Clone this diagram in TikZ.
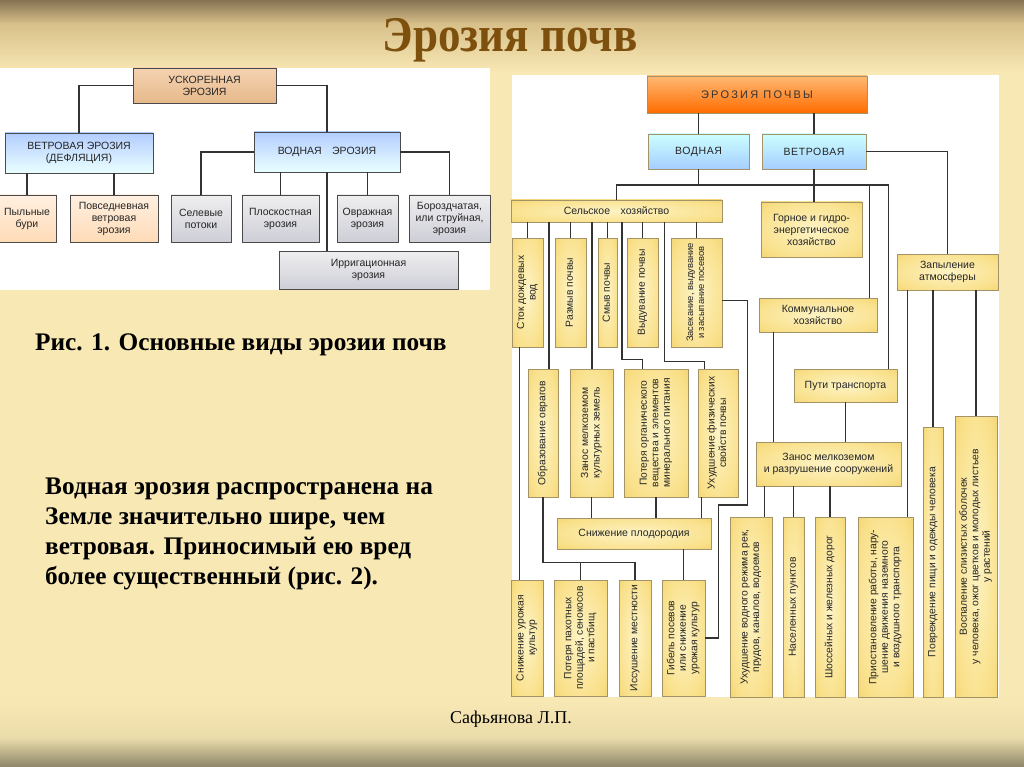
\documentclass[tikz,border=0pt]{standalone}
\usepackage{fontspec}
\setmainfont{Liberation Serif}
\setsansfont{Liberation Sans}
\usepackage{tikz}
\usepackage{graphicx}
\usetikzlibrary{calc}

\definecolor{bgA}{HTML}{857352}
\definecolor{bgB}{HTML}{D8C08A}
\definecolor{bgC}{HTML}{F8E8B4}
\definecolor{bgD}{HTML}{EADCAA}
\definecolor{bgE}{HTML}{8C8569}
\definecolor{yin}{HTML}{FDF3C4}
\definecolor{ymid}{HTML}{F9E08A}
\definecolor{yout}{HTML}{EEC24C}
\definecolor{yline}{HTML}{A39369}
\definecolor{lline}{HTML}{4A4A4A}
\definecolor{conncol}{HTML}{333333}
\definecolor{titcol}{HTML}{7E500E}
\pgfdeclareradialshading{yglow}{\pgfpoint{0bp}{0bp}}{color(0bp)=(yin); color(28bp)=(ymid); color(50bp)=(yout)}

\newcommand{\vtext}[1]{\rotatebox{90}{\begin{tabular}{@{}c@{}}#1\end{tabular}}}

\tikzset{
  wh/.style 2 args={minimum width=#1, minimum height=#2},
  lbox/.style={draw=lline, line width=0.8pt, inner sep=1pt, align=center,
    text=black!85, font=\sffamily\fontsize{10.5}{12}\selectfont},
  brownbox/.style={lbox, top color=white!60!brown!70!orange!60, bottom color=brown!70!orange!55!white},
  bluebox/.style={lbox, top color=cyan!35!blue!30!white, bottom color=cyan!8!white},
  peachbox/.style={lbox, top color=orange!12!white, bottom color=orange!28!white},
  greybox/.style={lbox, top color=blue!5!gray!12!white, bottom color=blue!10!gray!35!white},
  ybox/.style={draw=yline, line width=0.7pt, inner sep=1pt, align=center, shading=yglow,
    text=black!85, font=\sffamily\fontsize{10.5}{12}\selectfont},
  vbox/.style={ybox, font=\sffamily\fontsize{10.3}{11.5}\selectfont},
  rbluebox/.style={ybox, shading=axis, top color=cyan!20!white, bottom color=cyan!45!blue!35!white},
  orangebox/.style={draw=yline, line width=0.7pt, top color=orange!55!white, bottom color=orange!85!red,
    text=black!80, font=\sffamily\fontsize{11}{12}\selectfont\addfontfeature{LetterSpace=20}},
  conn/.style={draw=conncol, line width=1.3pt},
  lconn/.style={draw=conncol, line width=1.2pt}
}

\begin{document}
\begin{tikzpicture}[x=1pt,y=-1pt]
\useasboundingbox (0,0) rectangle (1024,767);

%Shape: background
\shade[top color=bgA, bottom color=bgB] (0,0) rectangle (1024,24);
\shade[top color=bgB, bottom color=bgC] (0,24) rectangle (1024,72);
\fill[bgC] (0,72) rectangle (1024,700);
\shade[top color=bgC, bottom color=bgD] (0,700) rectangle (1024,738);
\shade[top color=bgD, bottom color=bgE] (0,738) rectangle (1024,767);

%Shape: panels
\fill[white] (0,68) rectangle (490,290);
\fill[white] (512,75) rectangle (999,697);

% Text Node: title
\node[text=titcol, font=\bfseries\fontsize{50}{50}\selectfont] (ttl) at (510,40) {\scalebox{0.9}[1]{Эрозия почв}};

%%% left scheme
\node[brownbox, wh={143}{35}] (usk) at (204.5,85.5) {УСКОРЕННАЯ\\ЭРОЗИЯ};
\node[bluebox, wh={148}{40}] (vet) at (79,153) {ВЕТРОВАЯ ЭРОЗИЯ\\(ДЕФЛЯЦИЯ)};
\node[bluebox, wh={146}{40}] (vod) at (327,152) {ВОДНАЯ\quad ЭРОЗИЯ};
\node[peachbox, wh={58}{47}] (pyl) at (27,218.5) {Пыльные\\бури};
\node[peachbox, wh={88}{47}] (pov) at (114,218.5) {Повседневная\\ветровая\\эрозия};
\node[greybox, wh={60}{47}] (sel) at (201,218.5) {Селевые\\потоки};
\node[greybox, wh={77}{47}] (plo) at (280.5,218.5) {Плоскостная\\эрозия};
\node[greybox, wh={61}{47}] (ovr) at (367.5,218.5) {Овражная\\эрозия};
\node[greybox, wh={81}{47}] (bor) at (449.5,218.5) {Бороздчатая,\\или струйная,\\эрозия};
\node[greybox, wh={179}{38}] (irr) at (368.5,270) {Ирригационная\\эрозия};

\draw[lconn] (usk.west) -| (vet.north);
\draw[lconn] (usk.east) -| (vod.north);
\draw[lconn] (vet.south -| pyl.north) -- (pyl.north);
\draw[lconn] (vet.south -| pov.north) -- (pov.north);
\draw[lconn] (vod.west) -| (sel.north);
\draw[lconn] (vod.south -| plo.north) -- (plo.north);
\draw[lconn] (vod.south) -- (vod.south |- irr.north);
\draw[lconn] (vod.south -| ovr.north) -- (ovr.north);
\draw[lconn] (vod.east) -| (bor.north);

% Text Node: captions
\node[anchor=base west, inner sep=0, font=\bfseries\fontsize{25.3}{30}\selectfont] (cap) at (35,350) {Рис. 1. Основные виды эрозии почв};
\node[anchor=north west, inner sep=0, align=left, font=\bfseries\fontsize{25.3}{30}\selectfont] (para) at (45,478)
  {Водная эрозия распространена на\\Земле значительно шире, чем\\ветровая. Приносимый ею вред\\более существенный (рис. 2).};
\node[font=\fontsize{18}{18}\selectfont] (auth) at (511,719) {Сафьянова Л.П.};

%%% right scheme
\node[orangebox, wh={220}{37}] (ep) at (757,94.5) {ЭРОЗИЯ ПОЧВЫ};
\node[rbluebox, wh={101}{35}] (vodn) at (698.5,151.5) {\addfontfeature{LetterSpace=6}ВОДНАЯ};
\node[rbluebox, wh={104}{35}] (vetr) at (814,151.5) {\addfontfeature{LetterSpace=6}ВЕТРОВАЯ};
\node[ybox, wh={211}{22}] (selh) at (616.5,211) {Сельское\quad хозяйство};
\node[ybox, wh={101}{55}] (gorn) at (811.5,229.5) {Горное и гидро-\\энергетическое\\хозяйство};
\node[ybox, wh={101}{36}] (zap) at (947.5,272) {Запыление\\атмосферы};
\node[ybox, wh={118}{34}] (komm) at (818,315) {Коммунальное\\хозяйство};
\node[ybox, wh={103}{33}] (put) at (845.5,385.5) {Пути транспорта};
\node[ybox, wh={145}{44}] (zanos) at (828.5,464) {Занос мелкоземом\\и разрушение сооружений};

% top row
\node[vbox, wh={31}{109}] (stok) at (527.5,292.5) {\vtext{Сток дождевых\\вод}};
\node[vbox, wh={31}{109}] (razm) at (570.5,292.5) {\vtext{Размыв почвы}};
\node[vbox, wh={19}{109}] (smyv) at (607.5,292.5) {\vtext{Смыв почвы}};
\node[vbox, wh={31}{109}] (vyd) at (642.5,292.5) {\vtext{Выдувание почвы}};
\node[vbox, wh={51}{109}, font=\sffamily\fontsize{9.4}{11}\selectfont] (zas) at (696.5,292.5) {\vtext{Засекание, выдувание\\и засыпание посевов}};
% second row
\node[vbox, wh={30}{128}] (obr) at (543,433) {\vtext{Образование оврагов}};
\node[vbox, wh={43}{128}] (zmk) at (591.5,433) {\vtext{Занос мелкоземом\\культурных земель}};
\node[vbox, wh={64}{128}] (pot) at (656,433) {\vtext{Потеря органического\\вещества и элементов\\минерального питания}};
\node[vbox, wh={40}{128}] (uf) at (718,433) {\vtext{Ухудшение физических\\свойств почвы}};
\node[ybox, wh={154}{31}] (snp) at (634,533.5) {Снижение плодородия};
% bottom row
\node[vbox, wh={32}{116}] (snu) at (527,638) {\vtext{Снижение урожая\\культур}};
\node[vbox, wh={53}{116}] (ppl) at (580.5,638) {\vtext{Потеря пахотных\\площадей, сенокосов\\и пастбищ}};
\node[vbox, wh={32}{116}] (iss) at (635,638) {\vtext{Иссушение местности}};
\node[vbox, wh={43}{116}] (gib) at (683.5,638) {\vtext{Гибель посевов\\или снижение\\урожая культур}};
\node[vbox, wh={42}{180}] (uhv) at (751,607) {\vtext{Ухудшение водного режима рек,\\прудов, каналов, водоемов}};
\node[vbox, wh={21}{180}] (nas) at (793.5,607) {\vtext{Населенных пунктов}};
\node[vbox, wh={30}{180}] (sho) at (830,607) {\vtext{Шоссейных и железных дорог}};
\node[vbox, wh={55}{180}] (pri) at (885.5,607) {\vtext{Приостановление работы, нару-\\шение движения наземного\\и воздушного транспорта}};
\node[vbox, wh={20}{270}] (povr) at (933,562) {\vtext{Повреждение пищи и одежды человека}};
\node[vbox, wh={42}{281}] (vosp) at (976,556.5) {\vtext{Воспаление слизистых оболочек\\у человека, ожог цветков и молодых листьев\\у растений}};

% helper points
\coordinate (bus) at (0,185);
\coordinate (putin) at ($(put.north east)+(-9,0)$);
\coordinate (kommin) at ($(komm.north east)+(-8,0)$);
\coordinate (g1) at ($(stok.east)!.5!(razm.west)$);
\coordinate (g2) at ($(razm.east)!.5!(smyv.west)$);
\coordinate (g3) at ($(smyv.east)!.5!(vyd.west)$);
\coordinate (g4) at ($(vyd.east)!.5!(zas.west)$);
\coordinate (potk) at ($(pot.north west)+(19,-9)$);
\coordinate (ufk) at ($(uf.north west)+(7,-7)$);
\coordinate (stk) at ($(stok.south west)+(8,0)$);
\coordinate (obk) at ($(iss.north)+(0,-17)$);
\coordinate (ufb) at ($(uf.south west)+(4,0)$);
\coordinate (zasr) at ($(zas.east)+(0,8)$);
\coordinate (zk) at ($(gib.east)+(13,-133)$);
\coordinate (kmb) at ($(komm.south west)+(15,0)$);
\coordinate (uhin) at ($(uhv.north east)+(-8,0)$);
\coordinate (prin) at ($(pri.north east)+(-6,0)$);

% connectors
\draw[conn] (ep.south -| vodn.north) -- (vodn.north);
\draw[conn] (ep.south -| vetr.north) -- (vetr.north);
\draw[conn] (vetr.east) -| (zap.north);
\draw[conn] (vetr.south) -- (vetr.south |- gorn.north);
\draw[conn] (vodn.south) -- (vodn.south |- bus);
\draw[conn] (selh.north) -- (selh.north |- bus) -- (putin |- bus) -- (putin);
\draw[conn] (kommin |- bus) -- (kommin);
\foreach \b in {stok,razm,smyv,vyd,zas}
  \draw[conn] (selh.south -| \b.north) -- (\b.north);
\draw[conn] (selh.south -| g1) -- (obr.north -| g1);
\draw[conn] (selh.south -| g2) -- (zmk.north -| g2);
\draw[conn] (selh.south -| g3) |- (potk) -- (pot.north -| potk);
\draw[conn] (selh.south -| g4) |- (ufk) -- (uf.north -| ufk);
\draw[conn] (stk) -- (snu.north -| stk);
\draw[conn] (obr.south) |- (obk) -- (iss.north);
\draw[conn] (ppl.north |- obk) -- (ppl.north);
\draw[conn] (zmk.south) -- (zmk.south |- snp.north);
\draw[conn] (pot.south) -- (pot.south |- snp.north);
\draw[conn] (ufb) -- (ufb |- snp.north);
\draw[conn] (snp.south -| gib.north) -- (gib.north);
\draw[conn] (zasr) -- ++(25,0) |- (zk) |- (gib.east);
\draw[conn] (kmb) -- (kmb |- zanos.north);
\draw[conn] (put.south) -- (put.south |- zanos.north);
\draw[conn] (zanos.south -| uhin) -- (uhin);
\draw[conn] (zanos.south -| nas.north) -- (nas.north);
\draw[conn] (zanos.south -| sho.north) -- (sho.north);
\draw[conn] (zap.south -| prin) -- (prin);
\draw[conn] (zap.south -| povr.north) -- (povr.north);
\draw[conn] (zap.south -| vosp.north) -- (vosp.north);

\end{tikzpicture}
\end{document}
